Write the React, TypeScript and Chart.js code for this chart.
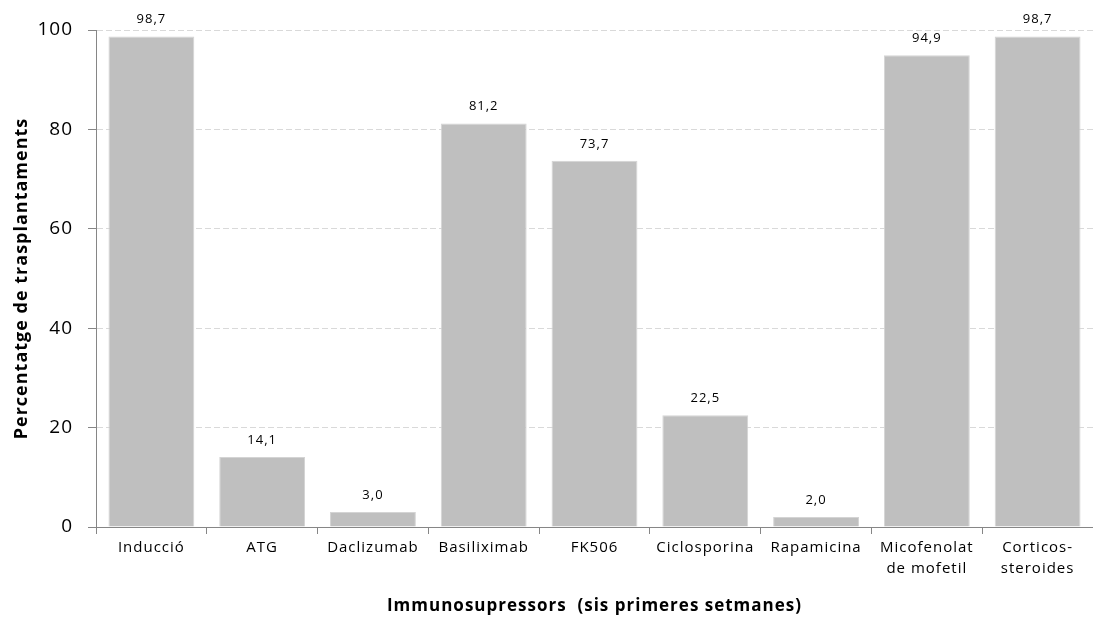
import React, { useEffect, useRef } from "react";
import { Chart, registerables } from "chart.js";

Chart.register(...registerables);

const categories: (string | string[])[] = [
  "Inducció",
  "ATG",
  "Daclizumab",
  "Basiliximab",
  "FK506",
  "Ciclosporina",
  "Rapamicina",
  ["Micofenolat", "de mofetil"],
  ["Corticos-", "steroides"],
];
const values: number[] = [98.7, 14.1, 3.0, 81.2, 73.7, 22.5, 2.0, 94.9, 98.7];
const yTicks: number[] = [0, 20, 40, 60, 80, 100];
const yTitle = "Percentatge de trasplantaments";
const xTitle = "Immunosupressors  (sis primeres setmanes)";

const FONT = "'Open Sans', 'DejaVu Sans', sans-serif";

const spacingPlugin = {
  id: "spacing",
  beforeDraw(chart: any) {
    (chart.ctx as any).letterSpacing = "1px";
  },
};

const valueLabels = {
  id: "valueLabels",
  afterDatasetsDraw(chart: any) {
    const ctx = chart.ctx;
    const meta = chart.getDatasetMeta(0);
    ctx.save();
    (ctx as any).letterSpacing = "1px";
    ctx.font = `13px ${FONT}`;
    ctx.fillStyle = "#000000";
    ctx.textAlign = "center";
    ctx.textBaseline = "alphabetic";
    meta.data.forEach((bar: any, i: number) => {
      const txt = values[i].toFixed(1).replace(".", ",");
      ctx.fillText(txt, bar.x, bar.y - 13);
    });
    ctx.restore();
  },
};

export default function App() {
  const ref = useRef<HTMLCanvasElement>(null);
  useEffect(() => {
    if (!ref.current) return;
    const chart = new Chart(ref.current, {
      type: "bar",
      data: {
        labels: categories,
        datasets: [
          {
            data: values,
            backgroundColor: "#BFBFBF",
            borderColor: "#D4D4D4",
            borderWidth: 1,
            barPercentage: 0.775,
            categoryPercentage: 1,
          },
        ],
      },
      options: {
        responsive: false,
        animation: false,
        events: [],
        layout: { padding: { top: 30, right: 0, bottom: 0, left: 0 } },
        plugins: {
          legend: { display: false },
          tooltip: { enabled: false },
        },
        scales: {
          x: {
            offset: true,
            grid: {
              display: true,
              drawOnChartArea: false,
              offset: true,
              tickLength: 7,
              tickColor: "#868686",
              lineWidth: 1,
            },
            border: { display: true, color: "#868686", width: 1 },
            ticks: {
              color: "#000000",
              font: { family: FONT, size: 15, lineHeight: 1.35 },
              padding: 4,
              maxRotation: 0,
              autoSkip: false,
            },
            title: {
              display: true,
              text: xTitle,
              color: "#000000",
              font: { family: FONT, size: 17, weight: "bold", lineHeight: 1.2 },
              padding: { top: 0, bottom: 12 },
            },
            afterFit(scale: any) {
              scale.height = 101;
            },
          },
          y: {
            min: 0,
            max: 100,
            afterBuildTicks(scale: any) {
              scale.ticks = yTicks.map((v) => ({ value: v }));
            },
            grid: {
              color: (c: any) => (c.tick && c.tick.value === 0 ? "rgba(0,0,0,0)" : "#D9D9D9"),
              tickColor: "#868686",
              tickLength: 8,
              tickBorderDash: [],
              lineWidth: 1,
            },
            border: { display: true, color: "#868686", width: 1, dash: [6, 3] },
            ticks: {
              color: "#000000",
              font: { family: FONT, size: 19 },
              padding: 15,
            },
            title: {
              display: true,
              text: yTitle,
              color: "#000000",
              font: { family: FONT, size: 18, weight: "bold", lineHeight: 1.2 },
              padding: { top: 11, bottom: 0 },
            },
            afterFit(scale: any) {
              scale.width = 96;
            },
          },
        },
      },
      plugins: [spacingPlugin, valueLabels],
    });
    return () => chart.destroy();
  }, []);
  return (
    <div style={{ position: "absolute", left: 0, top: 0, width: 1093, height: 628, background: "#fff" }}>
      <canvas ref={ref} width={1093} height={628} style={{ display: "block" }} />
    </div>
  );
}
